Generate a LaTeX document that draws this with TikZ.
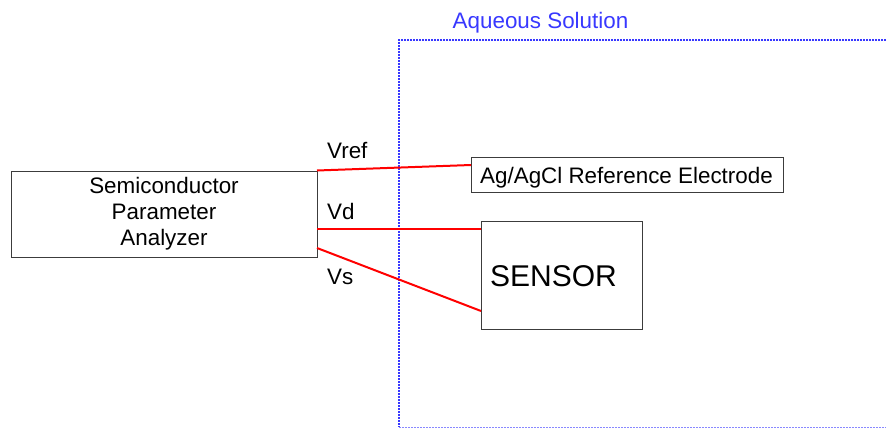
\documentclass[tikz,border=0pt]{standalone}
\usepackage{fontspec}
\setmainfont{Liberation Sans}
\definecolor{waterblue}{RGB}{56,56,255}
\definecolor{wirered}{RGB}{255,0,0}
\definecolor{boxgray}{RGB}{60,60,60}
\begin{document}
\begin{tikzpicture}[x=1pt,y=-1pt,
  box/.style={draw=boxgray,line width=1.2pt,inner sep=0pt,minimum width=#1},
  lbl/.style={inner sep=0pt,font=\fontsize{22.4}{26}\selectfont},
  wire/.style={draw=wirered,line width=2pt},
  water/.style={draw=waterblue,line width=2.6pt,dash pattern=on 2pt off 1pt}]
\useasboundingbox (0,0) rectangle (886,428);

% aqueous solution region
\coordinate (wtl) at (399,40);
\coordinate (wtr) at (886,40);
\coordinate (wbl) at (399,427);
\coordinate (wbr) at (886,427);
\draw[water] (wtr) -- (wtl) -- (wbl);
\draw[draw=waterblue!60,line width=1pt,dash pattern=on 2pt off 1pt] (wbl) -- (wbr);
\node[lbl,text=waterblue,anchor=base] (aq) at (540.5,29) {Aqueous Solution};

% instruments
\node[box,minimum width=306pt,minimum height=86pt,anchor=north west] (spa) at (11,171) {};
\node[lbl,align=center] (spatext) at (164,214) {Semiconductor\\Parameter\\Analyzer};
\node[box,minimum width=312pt,minimum height=35pt,anchor=north west] (ref) at (471,157) {};
\node[lbl,anchor=base west] (reftext) at (480,183) {Ag/AgCl Reference Electrode};
\node[box,minimum width=161pt,minimum height=108pt,anchor=north west] (sen) at (481,221) {};
\node[inner sep=0pt,anchor=base west,font=\fontsize{30}{35}\selectfont] (sentext) at (490,286) {SENSOR};

% wiring
\coordinate (vrefA) at (317,170.5);
\coordinate (vrefB) at (471,165);
\coordinate (vdA) at (317,229);
\coordinate (vdB) at (481,229);
\coordinate (vsA) at (317,248);
\coordinate (vsB) at (481,311);
\draw[wire] (vrefA) -- (vrefB);
\draw[wire] (vdA) -- (vdB);
\draw[wire] (vsA) -- (vsB);
\node[lbl,anchor=base west] (vref) at (327,158) {Vref};
\node[lbl,anchor=base west] (vd) at (327,219) {Vd};
\node[lbl,anchor=base west] (vs) at (327,284) {Vs};
\end{tikzpicture}
\end{document}
